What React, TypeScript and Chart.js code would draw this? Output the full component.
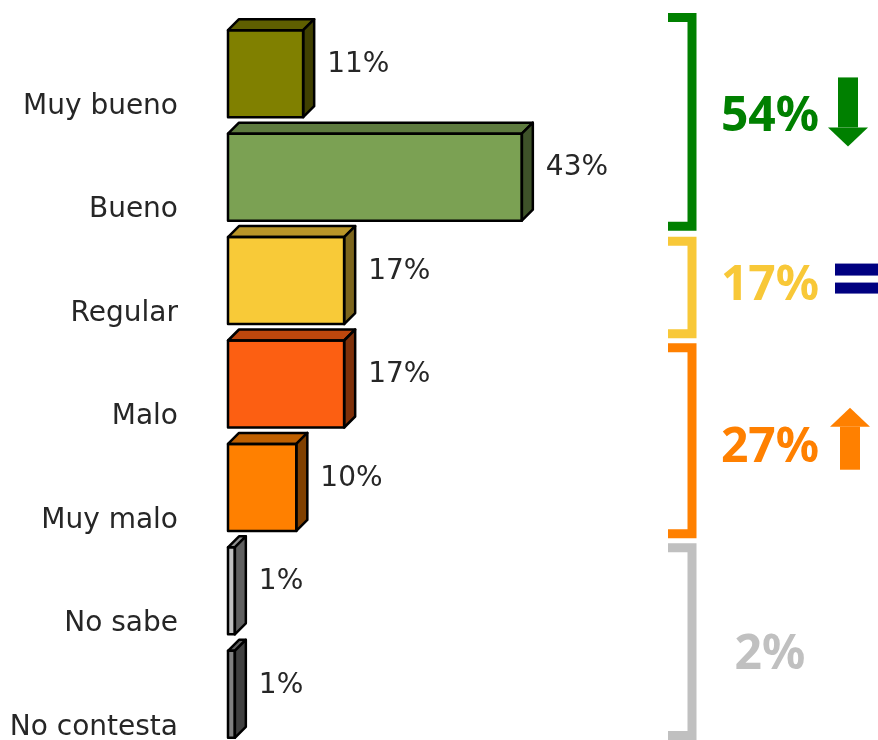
import React, { useEffect, useRef } from "react";
import { Chart, registerables } from "chart.js";
Chart.register(...registerables);

const categories = ["Muy bueno", "Bueno", "Regular", "Malo", "Muy malo", "No sabe", "No contesta"];
const values = [11, 43, 17, 17, 10, 1, 1];
const valueLabels = ["11%", "43%", "17%", "17%", "10%", "1%", "1%"];

const groupLabels = ["54%", "17%", "27%", "2%"];
const groupStart = [0, 2, 3, 5];
const groupEnd = [1, 2, 4, 6];
const groupTrend = ["down", "equal", "up", "none"];

// styles
const frontColors = ["#808000", "#7BA153", "#F8CA38", "#FC5F12", "#FF8000", "#C0C0C0", "#808080"];
const topColors = ["#5F5F00", "#5E7B3F", "#BA9628", "#BD470D", "#BF6000", "#909090", "#606060"];
const sideColors = ["#404000", "#3E5229", "#7C651C", "#7E3009", "#804000", "#606060", "#404040"];
const groupColors = ["#008000", "#F8C838", "#FF8000", "#C0C0C0"];
const trendColors = ["#008000", "#000080", "#FF8000", "#C0C0C0"];
const bracketTopNudge = [-9, 8, 11, 4];
const bracketBotNudge = [2, 6, -1, -6];
const textNudge = [-10, 4, 11, 11];

const DEPTH = 11;
const TEXT = "#262626";

const bar3d = {
  id: "bar3d",
  afterDatasetsDraw(chart: any) {
    const ctx = chart.ctx;
    const meta = chart.getDatasetMeta(0);
    meta.data.forEach((el: any, i: number) => {
      const { x, y, base, height } = el.getProps(["x", "y", "base", "height"], true);
      const top = y - height / 2;
      const bottom = y + height / 2;
      ctx.save();
      ctx.lineWidth = 2.5;
      ctx.strokeStyle = "#000";
      ctx.lineJoin = "round";
      ctx.beginPath();
      ctx.moveTo(base, top);
      ctx.lineTo(base + DEPTH, top - DEPTH);
      ctx.lineTo(x + DEPTH, top - DEPTH);
      ctx.lineTo(x, top);
      ctx.closePath();
      ctx.fillStyle = topColors[i];
      ctx.fill();
      ctx.stroke();
      ctx.beginPath();
      ctx.moveTo(x, top);
      ctx.lineTo(x + DEPTH, top - DEPTH);
      ctx.lineTo(x + DEPTH, bottom - DEPTH);
      ctx.lineTo(x, bottom);
      ctx.closePath();
      ctx.fillStyle = sideColors[i];
      ctx.fill();
      ctx.stroke();
      ctx.strokeRect(base, top, x - base, height);
      ctx.fillStyle = TEXT;
      ctx.font = "28px 'DejaVu Sans'";
      ctx.textAlign = "left";
      ctx.textBaseline = "middle";
      ctx.fillText(valueLabels[i], x + DEPTH + 13, y - 9);
      ctx.restore();
    });
  },
};

const annotations = {
  id: "annotations",
  afterDraw(chart: any) {
    const ctx = chart.ctx;
    const ys = chart.scales.y;
    const band = ys.getPixelForValue(1) - ys.getPixelForValue(0);
    const bx = 692;
    const tabL = 668;
    groupLabels.forEach((lab, g) => {
      const c0 = ys.getPixelForValue(groupStart[g]);
      const c1 = ys.getPixelForValue(groupEnd[g]);
      const top = c0 - band / 2 + bracketTopNudge[g];
      const bot = c1 + band / 2 + bracketBotNudge[g];
      ctx.save();
      ctx.strokeStyle = groupColors[g];
      ctx.lineWidth = 9;
      ctx.lineJoin = "miter";
      ctx.lineCap = "butt";
      ctx.beginPath();
      ctx.moveTo(tabL, top + 4.5);
      ctx.lineTo(bx, top + 4.5);
      ctx.lineTo(bx, bot - 4.5);
      ctx.lineTo(tabL, bot - 4.5);
      ctx.stroke();

      const tc = (c0 + c1) / 2 + textNudge[g];
      ctx.fillStyle = groupColors[g];
      ctx.font = "bold 48px 'Noto Sans'";
      ctx.textAlign = "center";
      ctx.textBaseline = "middle";
      ctx.fillText(lab, 770, tc + 2);

      ctx.fillStyle = trendColors[g];
      const t = groupTrend[g];
      if (t === "down") {
        ctx.fillRect(838, tc - 38, 20, 50);
        ctx.beginPath();
        ctx.moveTo(828, tc + 12);
        ctx.lineTo(868, tc + 12);
        ctx.lineTo(848, tc + 31);
        ctx.closePath();
        ctx.fill();
      } else if (t === "up") {
        ctx.fillRect(840, tc - 20, 20, 43);
        ctx.beginPath();
        ctx.moveTo(830, tc - 20);
        ctx.lineTo(870, tc - 20);
        ctx.lineTo(850, tc - 39);
        ctx.closePath();
        ctx.fill();
      } else if (t === "equal") {
        ctx.fillRect(835, tc - 21, 45, 12);
        ctx.fillRect(835, tc - 2, 45, 11);
      }
      ctx.restore();
    });
  },
};

export default function App() {
  const ref = useRef<HTMLCanvasElement | null>(null);
  useEffect(() => {
    document.body.style.margin = "0";
    const chart = new Chart(ref.current as HTMLCanvasElement, {
      type: "bar",
      data: {
        labels: categories,
        datasets: [
          {
            data: values,
            backgroundColor: frontColors,
            borderWidth: 0,
            barThickness: 87,
          },
        ],
      },
      options: {
        indexAxis: "y",
        responsive: false,
        animation: false,
        devicePixelRatio: 1,
        layout: { padding: { left: 0, top: 22, right: 240, bottom: 14 } },
        plugins: { legend: { display: false }, tooltip: { enabled: false } },
        scales: {
          x: { display: false, min: 0, max: 60 },
          y: {
            grid: { display: false, drawTicks: false },
            border: { display: false },
            afterFit: (s: any) => {
              s.width = 228;
              s.paddingTop = 0;
              s.paddingBottom = 0;
            },
            ticks: {
              padding: 50,
              labelOffset: 33,
              color: TEXT,
              font: { family: "'DejaVu Sans'", size: 28 },
              autoSkip: false,
            },
          },
        },
      },
      plugins: [bar3d, annotations],
    } as any);
    return () => chart.destroy();
  }, []);
  return (
    <div style={{ width: 878, height: 740, overflow: "hidden" }}>
      <canvas ref={ref} width={878} height={760} style={{ display: "block" }} />
    </div>
  );
}
